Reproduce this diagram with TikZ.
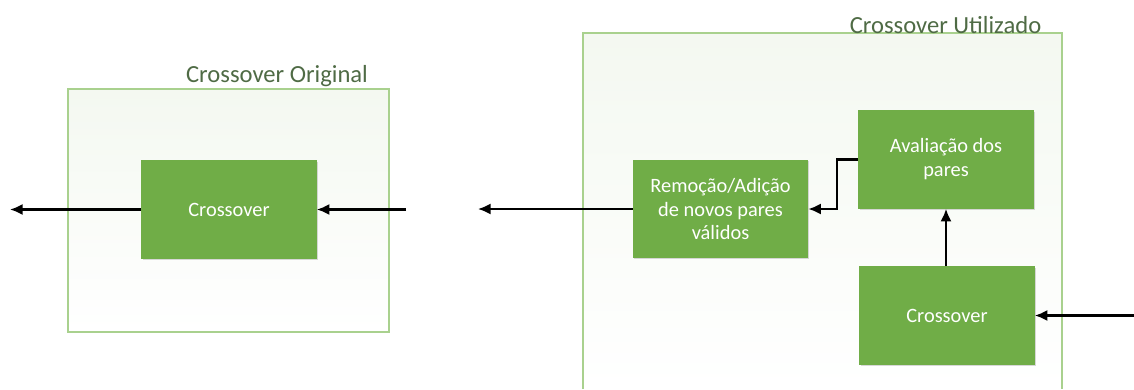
\documentclass[tikz,border=0pt]{standalone}
\usepackage{fontspec}
\setmainfont{Carlito}
\usetikzlibrary{arrows.meta,shadows}

\definecolor{boxgreen}{HTML}{70AD47}
\definecolor{framegreen}{HTML}{A9D18E}
\definecolor{labelgreen}{HTML}{4F6B45}

\tikzset{
  block/.style={rectangle, fill=boxgreen, text=white, align=center,
    minimum width=4.375cm, minimum height=2.45cm, inner sep=2pt,
    font=\fontsize{14.5}{17}\selectfont,
    drop shadow={opacity=0.3, shadow xshift=0.8pt, shadow yshift=-0.8pt}},
  frame/.style={draw=framegreen, line width=1.1pt},
  framefill/.style={top color=black!5!framegreen!12, bottom color=white},
  title/.style={anchor=base, text=labelgreen, font=\fontsize{17.5}{20}\selectfont},
  arr/.style={-{Latex[length=9pt,width=8pt]}, line width=1.6pt, black}
}

\begin{document}
\begin{tikzpicture}[x=0.025cm, y=-0.025cm]
  \useasboundingbox (0,0) rectangle (1134,389);

  % Original crossover
  \fill[framefill] (68,89) rectangle (389,332);
  \draw[frame] (68,89) rectangle (389,332);
  \node[title] (titleorig) at (277,82) {Crossover Original};
  \node[block] (cross1) at (229,209.5) {Crossover};

  \coordinate (in1) at (406,209.5);
  \coordinate (out1) at (10,209.5);
  \draw[arr] (in1) -- (cross1);
  \draw[arr] (cross1) -- (out1);

  % Crossover used
  \fill[framefill] (583,33) rectangle (1062,389);
  \draw[frame] (583,389) -- (583,33) -- (1062,33) -- (1062,389);
  \node[title] (titleused) at (945.5,33) {Crossover Utilizado};

  \node[block] (rem) at (720.5,209) {Remoção/Adição\\de novos pares\\válidos};
  \node[block] (aval) at (946,159.5) {Avaliação dos\\pares};
  \node[block] (cross2) at (947,315.5) {Crossover};

  \coordinate (in2) at (1134,315.5);
  \coordinate (out2) at (478,209);
  \draw[arr] (in2) -- (cross2);
  \draw[arr] (cross2.north -| aval.south) -- (aval.south);
  \draw[arr] (aval.west) -- ++(-21,0) |- (rem.east);
  \draw[arr] (rem) -- (out2);
\end{tikzpicture}
\end{document}
